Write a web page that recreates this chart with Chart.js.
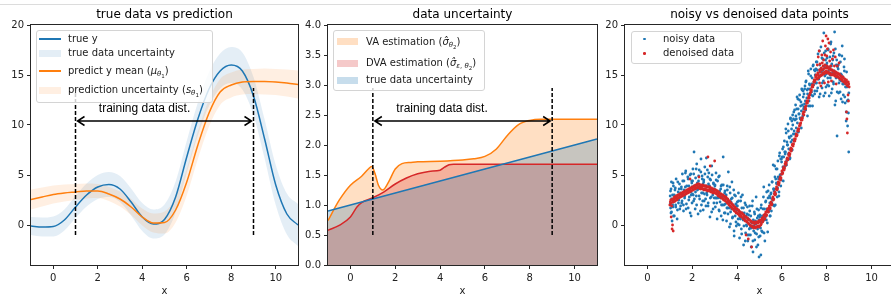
<!DOCTYPE html>
<html><head><meta charset="utf-8">
<script src="https://cdn.jsdelivr.net/npm/chart.js@4.4.0/dist/chart.umd.min.js"></script>
<style>
html,body{margin:0;padding:0;background:#fff;overflow:hidden;width:891px;height:297px;position:relative;}
.topline{position:absolute;left:0;top:4px;width:891px;height:1px;background:#dcdcdc;}
.panel{position:absolute;top:0;}
.title{position:absolute;top:7px;width:300px;text-align:center;font-family:"DejaVu Sans";font-size:12px;color:#000;line-height:14px;white-space:nowrap;}
.legend{position:absolute;background:rgba(255,255,255,0.8);border:1px solid #d4d4d4;border-radius:3px;box-sizing:border-box;font-family:"DejaVu Sans";font-size:10px;color:#1a1a1a;}
.row{position:absolute;left:0;width:100%;height:14px;line-height:14px;white-space:nowrap;}
.h{position:absolute;}
.t{position:absolute;top:0;}
sub{font-size:7px;vertical-align:-2px;line-height:0;}
sub sub{font-size:5.5px;vertical-align:-1.5px;}
</style>
</head><body>
<div class="topline"></div>
<div class="panel" style="left:0px"><canvas id="c1" width="300" height="297"></canvas></div>
<div class="panel" style="left:300px"><canvas id="c2" width="300" height="297"></canvas></div>
<div class="panel" style="left:600px"><canvas id="c3" width="300" height="297"></canvas></div>
<script>
// ---------------- data ----------------
const titles = ['true data vs prediction', 'data uncertainty', 'noisy vs denoised data points'];
const xTicks = [0, 2, 4, 6, 8, 10];
const yTicks1 = [0, 5, 10, 15, 20];
const yTicks2 = [0, 0.5, 1, 1.5, 2, 2.5, 3, 3.5, 4];
const yTicks3 = [0, 5, 10, 15, 20];

// panel 1
const x1 = [-1,-0.5,0,0.5,1,1.5,2,2.5,3,3.5,4,4.5,5,5.5,6,6.5,7,7.5,8,8.5,9,9.5,10,10.5,11];
const trueY = [-0.1,-0.2,-0.15,0.5,1.8,3.0,3.8,4.05,3.6,2.3,0.8,0.1,0.55,2.8,6.8,10.6,13.6,15.4,16.0,15.4,12.9,8.6,4.0,1.1,0.0];
const trueSigma = [0.9,0.95,1.0,1.05,1.1,1.15,1.2,1.25,1.3,1.35,1.4,1.45,1.5,1.55,1.6,1.65,1.7,1.75,1.8,1.85,1.9,1.95,2.0,2.05,2.1];
const predY = [2.55,2.8,3.05,3.2,3.3,3.4,3.4,3.1,2.6,1.8,0.8,0.2,0.25,1.5,4.3,8.0,11.2,13.3,14.0,14.3,14.35,14.35,14.3,14.2,14.05];
const predS = [1.0,0.95,0.9,0.85,0.8,0.75,0.7,0.7,0.75,0.8,0.85,0.95,1.1,1.25,1.35,1.4,1.35,1.3,1.25,1.25,1.25,1.3,1.3,1.35,1.4];

// panel 2
const vaX = [-1,-0.5,0,0.5,0.8,0.95,1.1,1.25,1.45,1.7,2.0,2.3,2.7,3,4,5,5.5,6,6.5,7,7.5,8,8.5,9,10,11];
const vaY = [0.74,1.08,1.33,1.48,1.6,1.64,1.52,1.33,1.25,1.38,1.6,1.69,1.71,1.72,1.73,1.75,1.77,1.81,1.93,2.16,2.34,2.41,2.43,2.43,2.43,2.43];
const dvaX = [-1,-0.5,0,0.3,0.5,1,1.5,2,2.5,3,3.5,4,4.2,4.4,4.6,5,6,7,8,9,10,11];
const dvaY = [0.58,0.66,0.8,0.97,1.04,1.12,1.22,1.35,1.45,1.52,1.56,1.58,1.63,1.67,1.68,1.68,1.68,1.68,1.68,1.68,1.68,1.68];

// training range annotation
const trainRange = [1, 9];
const vline1Y = [-1, 13.7];
const vline2Y = [0.5, 2.95];
const arrowY1 = 10.4, arrowY2 = 2.4;
const annotText = 'training data dist.';
const textPos1 = [2.05, 11.6], textPos2 = [2.05, 2.6];

// panel 3
const noisyPts = [
[1.02,2.1],[1.03,3.4],[1.05,1.2],[1.07,4.3],[1.08,2.6],[1.1,0.4],[1.12,3.0],[1.14,1.8],[1.16,3.9],[1.18,2.4],[1.2,0.9],[1.23,3.5],[1.26,2.0],[1.28,4.6],[1.31,2.9],[1.34,1.5],[1.37,3.3],[1.4,2.5],[1.43,4.1],[1.46,3.1],[1.48,1.9],
[1.51,3.6],[1.53,2.2],[1.56,5.1],[1.58,3.0],[1.61,1.4],[1.63,4.4],[1.66,2.7],[1.69,3.8],[1.71,5.4],[1.74,2.1],[1.77,3.4],[1.8,4.8],[1.82,1.7],[1.85,3.9],[1.87,2.8],[1.9,5.0],[1.93,3.3],[1.95,0.9],[1.98,4.2],
[2.01,3.1],[2.03,5.6],[2.06,2.4],[2.08,7.3],[2.1,3.9],[2.13,1.6],[2.15,4.7],[2.18,2.9],[2.2,6.1],[2.23,3.5],[2.26,1.1],[2.28,4.4],[2.31,5.5],[2.33,2.6],[2.36,3.8],[2.39,6.6],[2.41,2.0],[2.44,4.9],[2.47,3.2],[2.49,1.5],
[2.51,4.3],[2.53,2.4],[2.56,5.8],[2.58,3.6],[2.61,1.9],[2.63,6.7],[2.66,3.0],[2.69,4.8],[2.71,2.2],[2.74,5.2],[2.77,3.9],[2.79,0.8],[2.82,4.5],[2.85,2.8],[2.87,5.9],[2.9,3.4],[2.93,1.6],[2.95,4.1],[2.98,2.7],
[3.01,3.9],[3.03,1.8],[3.06,5.2],[3.08,2.7],[3.11,0.6],[3.13,4.4],[3.16,3.1],[3.19,1.5],[3.21,4.9],[3.24,2.3],[3.27,3.6],[3.29,0.9],[3.32,4.0],[3.35,2.0],[3.38,6.8],[3.4,2.9],[3.43,1.2],[3.46,3.4],[3.48,2.1],
[3.51,2.7],[3.53,0.4],[3.56,3.9],[3.58,1.7],[3.61,5.3],[3.64,2.3],[3.66,-0.2],[3.69,3.2],[3.71,1.3],[3.74,2.6],[3.77,4.3],[3.79,0.7],[3.82,2.0],[3.85,3.5],[3.87,-1.1],[3.9,1.6],[3.93,2.9],[3.95,0.3],[3.98,1.9],
[4.01,2.3],[4.03,0.1],[4.06,3.2],[4.08,1.4],[4.11,-1.3],[4.13,0.8],[4.16,2.4],[4.19,-0.4],[4.21,1.7],[4.24,3.0],[4.27,0.5],[4.29,-2.0],[4.32,1.2],[4.35,2.2],[4.38,-0.8],[4.4,0.9],[4.43,-0.1],[4.46,1.8],[4.48,-1.6],
[4.51,0.6],[4.53,-1.0],[4.56,1.9],[4.58,-0.3],[4.61,0.9],[4.63,-2.2],[4.66,0.2],[4.69,2.4],[4.71,-2.7],[4.74,-0.6],[4.77,1.3],[4.79,-1.5],[4.82,0.4],[4.85,2.8],[4.87,-0.9],[4.9,0.7],[4.93,-2.0],[4.96,1.5],[4.98,-3.2],
[5.01,0.8],[5.03,-1.1],[5.06,-3.0],[5.08,2.0],[5.11,0.3],[5.13,-0.7],[5.16,1.6],[5.19,3.8],[5.21,0.5],[5.24,-1.6],[5.27,2.3],[5.29,1.0],[5.32,3.3],[5.35,0.2],[5.38,2.7],[5.4,1.4],[5.43,4.0],[5.46,2.2],[5.48,0.9],
[5.51,3.1],[5.53,1.4],[5.56,4.3],[5.58,2.5],[5.61,6.0],[5.64,3.6],[5.66,1.9],[5.69,4.8],[5.71,3.2],[5.74,5.6],[5.77,4.1],[5.79,2.8],[5.82,6.4],[5.85,4.6],[5.87,3.3],[5.9,7.2],[5.93,5.0],[5.95,3.9],[5.98,6.6],
[6.01,5.3],[6.03,7.6],[6.06,4.4],[6.08,6.8],[6.11,8.4],[6.14,5.9],[6.16,7.3],[6.19,9.2],[6.21,6.4],[6.24,8.0],[6.27,10.1],[6.29,7.1],[6.32,8.8],[6.35,6.6],[6.38,10.6],[6.4,8.3],[6.43,9.6],[6.46,7.5],[6.48,11.0],
[6.51,9.1],[6.53,11.3],[6.56,8.4],[6.58,10.5],[6.61,12.0],[6.64,9.7],[6.66,11.6],[6.69,10.2],[6.71,12.6],[6.74,9.3],[6.77,11.1],[6.79,13.0],[6.82,10.6],[6.85,12.3],[6.87,11.4],[6.9,13.5],[6.93,10.9],[6.95,12.8],[6.98,11.8],
[7.01,12.1],[7.03,13.9],[7.06,11.5],[7.08,14.4],[7.11,12.7],[7.14,10.9],[7.16,13.6],[7.19,15.1],[7.21,12.4],[7.24,14.0],[7.27,11.9],[7.29,15.6],[7.32,13.3],[7.35,14.7],[7.38,12.9],[7.4,16.0],[7.43,14.3],[7.46,13.1],[7.48,15.4],
[7.51,14.2],[7.53,16.3],[7.56,13.4],[7.58,15.5],[7.61,17.1],[7.64,14.6],[7.66,12.8],[7.69,16.0],[7.71,14.9],[7.74,17.8],[7.77,15.3],[7.79,13.7],[7.82,16.6],[7.85,14.4],[7.87,19.2],[7.9,15.8],[7.93,13.2],[7.95,17.4],[7.98,15.1],
[8.01,16.2],[8.03,14.0],[8.06,17.6],[8.08,15.4],[8.11,12.9],[8.14,16.8],[8.16,14.7],[8.19,18.3],[8.21,15.9],[8.24,13.6],[8.27,16.5],[8.29,14.3],[8.32,17.2],[8.35,19.3],[8.38,15.1],[8.4,12.4],[8.43,16.0],[8.46,8.9],[8.48,14.8],
[8.51,15.6],[8.53,13.2],[8.56,17.0],[8.58,14.5],[8.61,16.3],[8.64,12.6],[8.66,15.0],[8.69,17.9],[8.71,14.1],[8.74,13.0],[8.77,15.8],[8.79,16.6],[8.82,12.2],[8.85,14.4],[8.87,11.3],[8.9,13.8],[8.93,9.9],[8.95,12.5],[8.98,7.3],
[1.015,2.9],[1.035,1.7],[1.055,3.6],[1.075,1.3],[1.095,2.5],[1.125,2.0],[1.145,4.2],[1.165,0.9],[1.195,3.0],[1.215,2.4],[1.245,3.7],[1.265,1.8],[1.295,2.7],[1.325,0.6],[1.355,4.3],[1.385,2.2],[1.415,3.6],[1.445,1.6],[1.475,3.2],
[1.515,3.8],[1.545,2.4],[1.575,4.4],[1.605,2.0],[1.635,3.5],[1.665,2.9],[1.695,5.2],[1.725,1.6],[1.755,3.9],[1.785,3.3],[1.815,4.6],[1.845,2.5],[1.875,3.5],[1.905,1.2],[1.935,5.1],[1.955,3.0],[1.975,4.4],[1.99,2.2],[1.995,3.8],
[2.015,4.4],[2.045,3.0],[2.065,5.1],[2.095,2.6],[2.125,3.9],[2.145,3.3],[2.175,5.6],[2.195,2.0],[2.225,4.2],[2.255,3.6],[2.285,4.9],[2.305,2.9],[2.335,3.7],[2.365,1.4],[2.385,5.3],[2.415,3.2],[2.445,4.6],[2.465,2.4],[2.485,4.1],
[2.515,4.5],[2.545,3.1],[2.565,5.1],[2.595,2.6],[2.625,3.9],[2.645,3.2],[2.675,5.5],[2.705,1.9],[2.725,4.1],[2.755,3.4],[2.785,4.6],[2.805,2.7],[2.835,3.5],[2.865,1.3],[2.885,5.0],[2.915,3.0],[2.945,4.2],[2.965,2.2],[2.985,3.6],
[3.015,4.0],[3.045,2.7],[3.065,4.5],[3.095,2.2],[3.125,3.3],[3.145,2.7],[3.175,4.8],[3.205,1.4],[3.225,3.4],[3.255,2.7],[3.285,3.9],[3.305,2.0],[3.335,2.8],[3.365,0.5],[3.385,4.0],[3.415,2.0],[3.445,3.2],[3.465,1.2],[3.485,2.6],
[3.515,3.0],[3.545,1.7],[3.565,3.5],[3.595,1.1],[3.625,2.2],[3.645,1.7],[3.675,3.8],[3.705,0.1],[3.725,2.3],[3.755,1.6],[3.785,2.7],[3.805,0.8],[3.835,1.6],[3.865,-0.6],[3.885,3.0],[3.915,0.9],[3.945,2.1],[3.965,-0.1],[3.985,1.5],
[4.015,1.9],[4.045,0.6],[4.065,2.4],[4.095,0.0],[4.125,1.1],[4.145,0.6],[4.175,2.8],[4.205,-0.9],[4.225,1.2],[4.255,0.6],[4.285,1.7],[4.305,-0.1],[4.335,0.7],[4.365,-1.6],[4.385,2.0],[4.415,0.0],[4.445,1.1],[4.465,-1.0],[4.485,0.6],
[4.515,1.0],[4.545,-0.4],[4.565,1.4],[4.595,-1.0],[4.625,0.3],[4.645,-0.3],[4.675,1.9],[4.705,-1.6],[4.725,0.5],[4.755,-0.1],[4.785,1.1],[4.805,-0.8],[4.835,0.1],[4.865,-2.2],[4.885,1.6],[4.915,-0.4],[4.945,0.9],[4.965,-1.2],[4.985,0.5],
[5.015,1.0],[5.045,-0.3],[5.065,1.7],[5.095,-0.6],[5.125,0.9],[5.145,0.5],[5.175,2.8],[5.205,-0.8],[5.225,1.6],[5.255,0.8],[5.285,2.4],[5.305,0.5],[5.335,1.6],[5.365,-0.7],[5.385,3.4],[5.415,1.4],[5.445,2.9],[5.465,0.9],[5.485,2.7],
[5.515,3.2],[5.545,2.2],[5.565,4.3],[5.595,2.0],[5.625,3.6],[5.645,3.4],[5.675,5.9],[5.705,2.0],[5.725,4.6],[5.755,4.2],[5.785,5.6],[5.805,3.7],[5.835,4.8],[5.865,2.9],[5.885,6.9],[5.915,5.0],[5.945,6.6],[5.965,4.5],[5.985,6.3],
[6.015,6.8],[6.045,5.8],[6.065,7.8],[6.095,5.6],[6.125,7.3],[6.145,7.1],[6.175,9.6],[6.205,6.0],[6.225,8.3],[6.255,8.0],[6.285,9.4],[6.305,7.6],[6.335,8.7],[6.365,6.7],[6.385,10.7],[6.415,8.9],[6.445,10.4],[6.465,8.5],[6.485,10.0],
[6.515,10.6],[6.545,9.4],[6.565,11.5],[6.595,9.1],[6.625,10.9],[6.645,10.6],[6.675,12.8],[6.705,9.3],[6.725,11.6],[6.755,11.1],[6.785,12.5],[6.805,10.7],[6.835,11.9],[6.865,9.7],[6.885,13.6],[6.915,12.0],[6.945,13.4],[6.965,11.6],[6.985,13.1],
[7.015,13.6],[7.045,12.4],[7.065,14.3],[7.095,11.9],[7.125,13.5],[7.145,13.1],[7.175,15.4],[7.205,11.9],[7.225,14.1],[7.255,13.6],[7.285,14.9],[7.305,13.0],[7.335,14.1],[7.365,11.9],[7.385,15.9],[7.415,14.0],[7.445,15.5],[7.465,13.4],[7.485,15.0],
[7.515,15.6],[7.545,14.2],[7.565,16.3],[7.595,13.7],[7.625,15.2],[7.645,14.6],[7.675,17.4],[7.705,13.1],[7.725,15.6],[7.755,15.0],[7.785,16.7],[7.805,14.2],[7.835,15.5],[7.865,12.9],[7.885,17.2],[7.915,14.9],[7.945,16.5],[7.965,13.8],[7.985,16.0],
[8.015,16.7],[8.045,14.7],[8.065,17.5],[8.095,13.9],[8.125,15.8],[8.145,15.0],[8.175,18.1],[8.205,13.2],[8.225,16.1],[8.255,15.2],[8.285,16.9],[8.305,14.1],[8.335,15.4],[8.365,12.0],[8.385,17.6],[8.415,14.7],[8.445,16.5],[8.465,13.3],[8.485,15.8],
[8.515,16.0],[8.545,14.2],[8.565,17.0],[8.595,13.3],[8.625,15.1],[8.645,14.4],[8.675,16.9],[8.705,12.3],[8.725,14.8],[8.755,14.1],[8.785,15.4],[8.805,12.8],[8.835,13.8],[8.865,10.4],[8.885,15.3],[8.915,12.4],[8.945,14.0],[8.965,11.2],[8.985,13.2]
];
const denoisedPts = [
[1.00,2.0],[1.04,2.5],[1.08,1.9],[1.12,2.6],[1.16,2.3],[1.20,2.8],[1.24,2.4],[1.28,2.9],[1.32,2.5],[1.36,3.0],[1.40,2.7],[1.44,3.1],[1.48,2.8],[1.52,3.2],[1.56,2.9],[1.60,3.3],[1.64,3.0],[1.68,3.4],[1.72,3.1],[1.76,3.5],[1.80,3.2],[1.84,3.6],[1.88,3.3],[1.92,3.7],[1.96,3.4],
[2.00,3.8],[2.04,3.5],[2.08,3.9],[2.12,3.6],[2.16,4.0],[2.20,3.7],[2.24,4.1],[2.28,3.7],[2.32,4.0],[2.36,3.6],[2.40,3.9],[2.44,3.6],[2.48,3.9],[2.52,3.5],[2.56,3.9],[2.60,3.5],[2.64,3.8],[2.68,3.4],[2.72,3.8],[2.76,3.4],[2.80,3.7],[2.84,3.3],[2.88,3.6],[2.92,3.2],[2.96,3.5],
[3.00,3.2],[3.04,3.5],[3.08,3.1],[3.12,3.4],[3.16,2.9],[3.20,3.2],[3.24,2.8],[3.28,3.1],[3.32,2.7],[3.36,3.0],[3.40,2.5],[3.44,2.8],[3.48,2.4],[3.52,2.7],[3.56,2.2],[3.60,2.5],[3.64,2.0],[3.68,2.3],[3.72,1.8],[3.76,2.1],[3.80,1.6],[3.84,1.9],[3.88,1.4],[3.92,1.7],[3.96,1.2],
[4.00,1.6],[4.04,1.1],[4.08,1.4],[4.12,0.9],[4.16,1.2],[4.20,0.8],[4.24,1.1],[4.28,0.6],[4.32,0.9],[4.36,0.4],[4.40,0.8],[4.44,0.3],[4.48,0.6],[4.52,0.1],[4.56,0.5],[4.60,-0.1],[4.64,0.3],[4.68,-0.2],[4.72,0.3],[4.76,-0.2],[4.80,0.3],[4.84,-0.2],[4.88,0.3],[4.92,-0.1],[4.96,0.4],
[5.00,-0.1],[5.04,0.5],[5.08,0.1],[5.12,0.7],[5.16,0.4],[5.20,1.0],[5.24,0.6],[5.28,1.3],[5.32,1.0],[5.36,1.6],[5.40,1.3],[5.44,1.9],[5.48,1.7],[5.52,2.3],[5.56,2.1],[5.60,2.8],[5.64,2.6],[5.68,3.3],[5.72,3.1],[5.76,3.8],[5.80,3.6],[5.84,4.3],[5.88,4.2],[5.92,4.8],[5.96,4.7],
[6.00,5.4],[6.04,5.2],[6.08,5.8],[6.12,5.7],[6.16,6.3],[6.20,6.2],[6.24,6.7],[6.28,6.6],[6.32,7.2],[6.36,7.1],[6.40,7.7],[6.44,7.6],[6.48,8.1],[6.52,8.1],[6.56,8.6],[6.60,8.6],[6.64,9.1],[6.68,9.0],[6.72,9.6],[6.76,9.6],[6.80,10.1],[6.84,10.2],[6.88,10.7],[6.92,10.7],[6.96,11.3],
[7.00,11.3],[7.04,11.8],[7.08,11.9],[7.12,12.4],[7.16,12.4],[7.20,12.9],[7.24,13.0],[7.28,13.5],[7.32,13.5],[7.36,14.0],[7.40,14.0],[7.44,14.5],[7.48,14.5],[7.52,15.0],[7.56,14.6],[7.60,15.2],[7.64,14.7],[7.68,15.5],[7.72,14.9],[7.76,15.7],[7.80,15.0],[7.84,15.9],[7.88,15.1],[7.92,16.0],[7.96,15.2],
[8.00,15.9],[8.04,15.2],[8.08,15.8],[8.12,15.1],[8.16,15.6],[8.20,15.0],[8.24,15.5],[8.28,15.0],[8.32,15.4],[8.36,14.9],[8.40,15.3],[8.44,14.8],[8.48,15.2],[8.52,14.8],[8.56,15.1],[8.60,14.6],[8.64,14.9],[8.68,14.5],[8.72,14.8],[8.76,14.3],[8.80,14.6],[8.84,14.1],[8.88,14.5],[8.92,13.9],[8.96,14.3],[9.00,13.8],
[1.02,2.3],[1.06,2.2],[1.10,2.5],[1.14,2.3],[1.18,2.6],[1.22,2.4],[1.26,2.7],[1.30,2.6],[1.34,2.9],[1.38,2.7],[1.42,3.0],[1.46,2.8],[1.50,3.1],[1.54,2.9],[1.58,3.2],[1.62,3.0],[1.66,3.3],[1.70,3.1],[1.74,3.4],[1.78,3.2],[1.82,3.5],[1.86,3.3],[1.90,3.6],[1.94,3.4],[1.98,3.7],
[2.02,3.5],[2.06,3.8],[2.10,3.6],[2.14,3.9],[2.18,3.7],[2.22,4.0],[2.26,3.8],[2.30,4.1],[2.34,3.7],[2.38,4.0],[2.42,3.7],[2.46,4.0],[2.50,3.6],[2.54,3.9],[2.58,3.6],[2.62,3.9],[2.66,3.5],[2.70,3.8],[2.74,3.5],[2.78,3.8],[2.82,3.4],[2.86,3.7],[2.90,3.3],[2.94,3.6],[2.98,3.3],
[3.02,3.5],[3.06,3.2],[3.10,3.4],[3.14,3.0],[3.18,3.3],[3.22,2.9],[3.26,3.1],[3.30,2.7],[3.34,3.0],[3.38,2.6],[3.42,2.9],[3.46,2.5],[3.50,2.8],[3.54,2.3],[3.58,2.6],[3.62,2.1],[3.66,2.4],[3.70,1.9],[3.74,2.2],[3.78,1.7],[3.82,2.0],[3.86,1.5],[3.90,1.8],[3.94,1.3],[3.98,1.6],
[4.02,1.2],[4.06,1.5],[4.10,1.0],[4.14,1.3],[4.18,0.9],[4.22,1.2],[4.26,0.7],[4.30,1.0],[4.34,0.5],[4.38,0.8],[4.42,0.4],[4.46,0.7],[4.50,0.2],[4.54,0.5],[4.58,0.0],[4.62,0.4],[4.66,-0.1],[4.70,0.2],[4.74,-0.3],[4.78,0.1],[4.82,-0.3],[4.86,0.2],[4.90,-0.2],[4.94,0.2],[4.98,-0.2],
[5.02,0.3],[5.06,0.0],[5.10,0.5],[5.14,0.3],[5.18,0.8],[5.22,0.6],[5.26,1.1],[5.30,0.9],[5.34,1.4],[5.38,1.3],[5.42,1.7],[5.46,1.6],[5.50,2.1],[5.54,2.0],[5.58,2.6],[5.62,2.5],[5.66,3.1],[5.70,3.0],[5.74,3.6],[5.78,3.5],[5.82,4.1],[5.86,4.0],[5.90,4.6],[5.94,4.5],[5.98,5.1],
[6.02,5.1],[6.06,5.6],[6.10,5.5],[6.14,6.1],[6.18,6.0],[6.22,6.6],[6.26,6.5],[6.30,7.0],[6.34,6.9],[6.38,7.5],[6.42,7.4],[6.46,8.0],[6.50,7.9],[6.54,8.4],[6.58,8.4],[6.62,8.9],[6.66,8.9],[6.70,9.4],[6.74,9.4],[6.78,9.9],[6.82,10.0],[6.86,10.5],[6.90,10.5],[6.94,11.1],[6.98,11.0],
[7.02,11.6],[7.06,11.6],[7.10,12.2],[7.14,12.2],[7.18,12.7],[7.22,12.7],[7.26,13.2],[7.30,13.3],[7.34,13.8],[7.38,13.8],[7.42,14.3],[7.46,14.3],[7.50,14.8],[7.54,14.8],[7.58,14.6],[7.62,15.0],[7.66,14.8],[7.70,15.3],[7.74,15.0],[7.78,15.5],[7.82,15.2],[7.86,15.6],[7.90,15.3],[7.94,15.7],[7.98,15.4],
[8.02,15.7],[8.06,15.3],[8.10,15.6],[8.14,15.2],[8.18,15.5],[8.22,15.1],[8.26,15.4],[8.30,15.1],[8.34,15.3],[8.38,15.0],[8.42,15.2],[8.46,14.9],[8.50,15.1],[8.54,14.7],[8.58,15.0],[8.62,14.6],[8.66,14.8],[8.70,14.4],[8.74,14.7],[8.78,14.3],[8.82,14.5],[8.86,14.2],[8.90,14.3],[8.94,14.0],[8.98,14.1],
[7.62,16.8],[7.66,17.4],[7.7,16.1],[7.74,13.9],[7.78,17.0],[7.82,18.4],[7.86,16.5],[7.9,14.2],[7.94,17.9],[7.97,18.9],[8.0,16.9],[8.03,17.6],[8.07,14.3],[8.1,18.2],[8.13,16.4],[8.17,17.3],[8.21,14.4],[8.25,16.6],[8.3,17.5],[8.34,15.9],[8.38,16.8],[8.42,14.1],[8.47,15.9],[8.55,16.2],[7.58,16.0],[7.68,14.2],[7.8,16.2],[7.92,17.0],[8.05,18.6],[8.18,15.9],
[1.1,-0.4],[1.12,0.0],[1.15,-0.6],[1.06,0.8],[2.7,6.8],[3.0,6.4],[2.3,4.8],[4.5,-1.4],[4.65,-2.2],[4.4,-1.0],[8.92,9.2],[8.9,10.6],[8.88,11.3],[8.95,13.0],[8.97,12.4],[2.8,5.9],[1.9,4.6]
];

// legend labels
const legend1Labels = ['true y', 'true data uncertainty', 'predict y mean (<i>μ</i><sub><i>θ</i><sub>1</sub></sub>)', 'prediction uncertainty (<i>s</i><sub><i>θ</i><sub>1</sub></sub>)'];
const legend2Labels = ['VA estimation (<i>σ̂</i><sub><i>θ</i><sub>2</sub></sub>)', 'DVA estimation (<i>σ̂</i><sub><i>ε</i>, <i>θ</i><sub>2</sub></sub>)', 'true data uncertainty'];
const legend3Labels = ['noisy data', 'denoised data'];

// ---------------- helpers ----------------
const BLUE = '#1f77b4', ORANGE = '#ff7f0e', RED = '#d62728';
const FONT = 'DejaVu Sans';
const pts = (xs, ys) => xs.map((x, i) => ({x, y: ys[i]}));
const lineDS = (label, data, color, order) => ({label, data, showLine: true, borderColor: color, borderWidth: 1.5, pointRadius: 0, fill: false, cubicInterpolationMode: 'monotone', order});
const edgeDS = (label, data, fill, bg, order) => ({label, data, showLine: true, borderColor: 'rgba(0,0,0,0)', borderWidth: 0, pointRadius: 0, fill, backgroundColor: bg, cubicInterpolationMode: 'monotone', order});
const dashDS = (x, ys) => ({label: 'train', data: [{x, y: ys[0]}, {x, y: ys[1]}], showLine: true, borderColor: '#000', borderWidth: 1.5, borderDash: [4, 2], pointRadius: 0, fill: false, order: 0});

const framePlugin = {
  id: 'frame',
  afterDatasetsDraw(chart) {
    const {ctx, chartArea: a} = chart;
    ctx.save();
    ctx.strokeStyle = '#262626'; ctx.lineWidth = 1;
    const l = Math.round(a.left) - 0.5, t = Math.round(a.top) - 0.5;
    ctx.strokeRect(l, t, Math.round(a.right) - Math.round(a.left) + 1, Math.round(a.bottom) - Math.round(a.top) + 1);
    ctx.restore();
  }
};
const annotPlugin = {
  id: 'annot',
  afterDatasetsDraw(chart, args, o) {
    if (!o || !o.range) return;
    const xs = chart.scales.x, ys = chart.scales.y, ctx = chart.ctx;
    const x0 = xs.getPixelForValue(o.range[0]) + 2, x1 = xs.getPixelForValue(o.range[1]) - 2, y = ys.getPixelForValue(o.y);
    ctx.save();
    ctx.strokeStyle = '#000'; ctx.lineWidth = 1.5; ctx.lineJoin = 'miter';
    ctx.beginPath();
    ctx.moveTo(x0, y); ctx.lineTo(x1, y);
    ctx.moveTo(x0 + 7, y - 4.5); ctx.lineTo(x0, y); ctx.lineTo(x0 + 7, y + 4.5);
    ctx.moveTo(x1 - 7, y - 4.5); ctx.lineTo(x1, y); ctx.lineTo(x1 - 7, y + 4.5);
    ctx.stroke();
    ctx.font = '12px "Liberation Sans"'; ctx.fillStyle = '#000'; ctx.textBaseline = 'middle'; ctx.textAlign = 'left';
    ctx.fillText(o.text, xs.getPixelForValue(o.textPos[0]), ys.getPixelForValue(o.textPos[1]));
    ctx.restore();
  }
};

function scales(yMin, yMax, yTicks, yWidth, yFmt) {
  const tickFont = {family: FONT, size: 10};
  const grid = {display: true, drawOnChartArea: false, drawTicks: true, tickLength: 4, tickColor: '#262626', tickWidth: 1};
  return {
    x: {type: 'linear', min: -1, max: 11,
      afterBuildTicks: s => { s.ticks = xTicks.map(v => ({value: v})); },
      afterFit: s => { s.height = 32; },
      grid, border: {display: false},
      ticks: {font: tickFont, color: '#222', padding: 3, maxRotation: 0, autoSkip: false},
      title: {display: true, text: 'x', font: tickFont, color: '#222', padding: {top: 0, bottom: 0}}},
    y: {type: 'linear', min: yMin, max: yMax,
      afterBuildTicks: s => { s.ticks = yTicks.map(v => ({value: v})); },
      afterFit: s => { s.width = yWidth; },
      grid, border: {display: false},
      ticks: {font: tickFont, color: '#222', padding: 3, autoSkip: false, callback: yFmt}}
  };
}
function baseOptions(padRight, sc, extra) {
  return {
    responsive: false, animation: false, devicePixelRatio: 1,
    layout: {padding: {left: 0, right: padRight, top: 25, bottom: 0}},
    scales: sc,
    plugins: Object.assign({legend: {display: false}, tooltip: {enabled: false}, title: {display: false}, filler: {drawTime: 'beforeDatasetsDraw'}}, extra || {})
  };
}

// ---------------- panel 1 ----------------
new Chart(document.getElementById('c1'), {
  type: 'line',
  data: {datasets: [
    edgeDS('tu_up', pts(x1, trueY.map((v, i) => v + trueSigma[i])), false, 'rgba(0,0,0,0)', 5),
    edgeDS('tu_lo', pts(x1, trueY.map((v, i) => v - trueSigma[i])), '-1', 'rgba(31,119,180,0.12)', 5),
    edgeDS('pu_up', pts(x1, predY.map((v, i) => v + predS[i])), false, 'rgba(0,0,0,0)', 4),
    edgeDS('pu_lo', pts(x1, predY.map((v, i) => v - predS[i])), '-1', 'rgba(255,127,14,0.12)', 4),
    lineDS('true y', pts(x1, trueY), BLUE, 2),
    lineDS('pred', pts(x1, predY), ORANGE, 1),
    dashDS(trainRange[0], vline1Y),
    dashDS(trainRange[1], vline1Y)
  ]},
  options: baseOptions(2, scales(-4, 20, yTicks1, 31, v => String(v)), {annot: {range: trainRange, y: arrowY1, text: annotText, textPos: textPos1}}),
  plugins: [framePlugin, annotPlugin]
});

// ---------------- panel 2 ----------------
new Chart(document.getElementById('c2'), {
  type: 'line',
  data: {datasets: [
    Object.assign(lineDS('VA', pts(vaX, vaY), ORANGE, 3), {fill: 'origin', backgroundColor: 'rgba(255,127,14,0.25)'}),
    Object.assign(lineDS('DVA', pts(dvaX, dvaY), RED, 2), {fill: 'origin', backgroundColor: 'rgba(214,39,40,0.25)'}),
    Object.assign(lineDS('true', pts(x1, trueSigma), BLUE, 1), {fill: 'origin', backgroundColor: 'rgba(31,119,180,0.25)'}),
    dashDS(trainRange[0], vline2Y),
    dashDS(trainRange[1], vline2Y)
  ]},
  options: baseOptions(3, scales(0, 4, yTicks2, 28, v => v.toFixed(1)), {annot: {range: trainRange, y: arrowY2, text: annotText, textPos: textPos2}}),
  plugins: [framePlugin, annotPlugin]
});

// ---------------- panel 3 ----------------
new Chart(document.getElementById('c3'), {
  type: 'line',
  data: {datasets: [
    {label: 'noisy', data: noisyPts.map(p => ({x: p[0], y: p[1]})), showLine: false, pointRadius: 1.4, pointBorderWidth: 0, pointBackgroundColor: BLUE, backgroundColor: BLUE, borderColor: BLUE, order: 2},
    {label: 'denoised', data: denoisedPts.map(p => ({x: p[0], y: p[1]})), showLine: false, pointRadius: 1.4, pointBorderWidth: 0, pointBackgroundColor: RED, backgroundColor: RED, borderColor: RED, order: 1}
  ]},
  options: baseOptions(6, scales(-4, 20, yTicks3, 25, v => String(v))),
  plugins: [framePlugin]
});

// ---------------- titles ----------------
[164.5, 462.5, 759.5].forEach((cx, i) => {
  const d = document.createElement('div'); d.className = 'title';
  d.style.left = (cx - 150) + 'px'; d.textContent = titles[i];
  document.body.appendChild(d);
});

// ---------------- legends ----------------
function buildLegend(cfg) {
  const box = document.createElement('div'); box.className = 'legend';
  Object.assign(box.style, {left: cfg.left + 'px', top: cfg.top + 'px', width: cfg.width + 'px', height: cfg.height + 'px'});
  cfg.items.forEach(it => {
    const row = document.createElement('div'); row.className = 'row'; row.style.top = (it.cy - 7) + 'px';
    const h = document.createElement('div'); h.className = 'h';
    if (it.kind === 'line') Object.assign(h.style, {left: cfg.hx + 'px', width: cfg.hw + 'px', top: '6.25px', height: '1.5px', background: it.color});
    else if (it.kind === 'patch') Object.assign(h.style, {left: cfg.hx + 'px', width: cfg.hw + 'px', top: '3.5px', height: '7px', background: it.color});
    else Object.assign(h.style, {left: cfg.hx + 'px', width: '2.6px', top: '5.7px', height: '2.6px', borderRadius: '50%', background: it.color});
    row.appendChild(h);
    const t = document.createElement('span'); t.className = 't'; t.style.left = cfg.tx + 'px'; t.innerHTML = it.label;
    row.appendChild(t);
    box.appendChild(row);
  });
  document.body.appendChild(box);
}
buildLegend({left: 36, top: 30, width: 177, height: 73, hx: 2, hw: 22, tx: 31, items: [
  {label: legend1Labels[0], kind: 'line', color: BLUE, cy: 8},
  {label: legend1Labels[1], kind: 'patch', color: 'rgba(31,119,180,0.12)', cy: 22.3},
  {label: legend1Labels[2], kind: 'line', color: ORANGE, cy: 40},
  {label: legend1Labels[3], kind: 'patch', color: 'rgba(255,127,14,0.12)', cy: 59}
]});
buildLegend({left: 333, top: 30, width: 152, height: 61, hx: 2.7, hw: 21.6, tx: 32, items: [
  {label: legend2Labels[0], kind: 'patch', color: 'rgba(255,127,14,0.25)', cy: 10.7},
  {label: legend2Labels[1], kind: 'patch', color: 'rgba(214,39,40,0.25)', cy: 32.3},
  {label: legend2Labels[2], kind: 'patch', color: 'rgba(31,119,180,0.25)', cy: 49}
]});
buildLegend({left: 631, top: 31, width: 111, height: 33, hx: 11, hw: 3, tx: 31, items: [
  {label: legend3Labels[0], kind: 'dot', color: BLUE, cy: 7},
  {label: legend3Labels[1], kind: 'dot', color: RED, cy: 21.3}
]});
</script>
</body></html>
